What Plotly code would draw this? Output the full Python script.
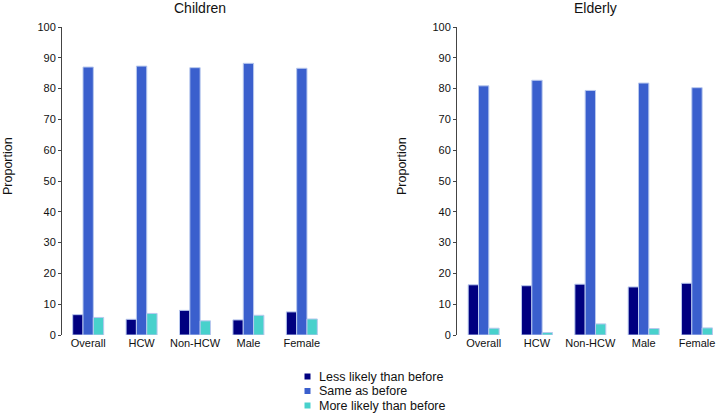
import plotly.graph_objects as go

categories = ["Overall", "HCW", "Non-HCW", "Male", "Female"]
series_names = ["Less likely than before", "Same as before", "More likely than before"]
colors = ["#000080", "#3A5FCD", "#48D1CC"]

children_less = [6.6, 5.1, 8.0, 4.9, 7.5]
children_same = [87.0, 87.3, 86.8, 88.2, 86.6]
children_more = [5.7, 7.0, 4.6, 6.4, 5.2]

elderly_less = [16.3, 16.0, 16.5, 15.6, 16.8]
elderly_same = [80.9, 82.7, 79.4, 81.8, 80.3]
elderly_more = [2.2, 0.8, 3.6, 2.1, 2.3]

y_ticks = [0, 10, 20, 30, 40, 50, 60, 70, 80, 90, 100]

fig = go.Figure()
panels = [
    ("x", "y", [children_less, children_same, children_more]),
    ("x2", "y2", [elderly_less, elderly_same, elderly_more]),
]
for xa, ya, vals in panels:
    for name, v, c in zip(series_names, vals, colors):
        fig.add_trace(go.Bar(
            x=categories, y=v, name=name, xaxis=xa, yaxis=ya,
            marker=dict(color=c, line=dict(color="#B8C8EE", width=1)),
            showlegend=False,
        ))

font = "Liberation Sans, Arial, sans-serif"
W, H = 717, 416
ML, MR, MT, MB = 62, 0, 27, 81
PW, PH = W - ML - MR, H - MT - MB

def px(xp):
    return (xp - ML) / PW

def py(yp):
    return (H - MB - yp) / PH

axis_common = dict(
    range=[0, 100], tickvals=y_ticks, showgrid=False, zeroline=False,
    showline=True, linecolor="#444444", linewidth=1,
    ticks="outside", ticklen=3, tickcolor="#444444", automargin=False,
    tickfont=dict(size=11, color="#111111", family=font),
)
xaxis_common = dict(
    showgrid=False, zeroline=False, showline=False, ticks="", automargin=False,
    tickfont=dict(size=11, color="#111111", family=font),
)

# legend drawn as small squares + text (compact spacing as in reference)
shapes = []
annotations = []
legend_y0, legend_step = 376.5, 14.5
for i, (name, c) in enumerate(zip(series_names, colors)):
    yc = legend_y0 + i * legend_step
    shapes.append(dict(type="rect", xref="paper", yref="paper",
                       x0=px(304.5), x1=px(310.5), y0=py(yc + 3), y1=py(yc - 3),
                       fillcolor=c, line=dict(width=0)))
    annotations.append(dict(text=name, x=px(317), y=py(yc), xref="paper", yref="paper",
                            xanchor="left", yanchor="middle", showarrow=False,
                            font=dict(size=12.5, family=font, color="#111111")))

for title, xc in [("Children", 200), ("Elderly", 595)]:
    annotations.append(dict(text=title, x=px(xc), y=py(8), xref="paper", yref="paper",
                            xanchor="center", yanchor="middle", showarrow=False,
                            font=dict(size=14, family=font, color="#111111")))
for xc in [8, 402]:
    annotations.append(dict(text="Proportion", x=px(xc), y=py(166), xref="paper", yref="paper",
                            xanchor="center", yanchor="middle", showarrow=False, textangle=-90,
                            font=dict(size=12.5, family=font, color="#111111")))

fig.update_layout(
    width=W, height=H,
    margin=dict(l=ML, r=MR, t=MT, b=MB, autoexpand=False),
    paper_bgcolor="white", plot_bgcolor="white",
    barmode="group", bargap=0.42, bargroupgap=0,
    font=dict(family=font, color="#111111"),
    showlegend=False,
    xaxis=dict(domain=[0, px(328)], anchor="y", range=[-0.49, 4.49], **xaxis_common),
    yaxis=dict(domain=[0, 1], anchor="x", **axis_common),
    xaxis2=dict(domain=[px(457), 1.0], anchor="y2", range=[-0.5, 4.375], **xaxis_common),
    yaxis2=dict(domain=[0, 1], anchor="x2", **axis_common),
    shapes=shapes,
    annotations=annotations,
)

fig.write_html("out.html", config={"displayModeBar": False},
               post_script="document.body.style.margin='0px';")
